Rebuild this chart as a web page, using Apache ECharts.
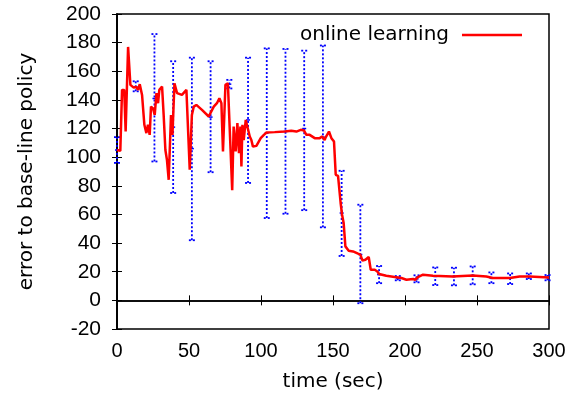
<!DOCTYPE html>
<html>
<head>
<meta charset="utf-8">
<script src="https://cdn.jsdelivr.net/npm/echarts@6/dist/echarts.min.js"></script>
<style>html,body{margin:0;padding:0;background:#fff}#c{width:583px;height:403px}</style>
</head>
<body>
<div id="c"></div>
<script>
var lineT = [0,2.3,3.5,5,6,7.7,9.3,11.6,13.5,14.6,15.8,17.4,19,20.4,21.5,22.7,23.6,25,26.2,27.4,28.5,29.4,31.3,32.4,33.6,34.7,35.9,37.5,38.5,39.9,41.7,45.1,48.2,50.5,52,53.3,55.1,59,63.7,67.2,69.4,71.1,72.5,73.6,75.3,77,78.3,80,81,82.4,83.6,84.7,85.7,86.4,87.1,88,89.4,90.6,92.2,93.3,94.4,96.8,97.9,99.8,102,103.8,109.5,116.5,121,124.6,127.6,129.9,131.5,133.8,137.3,140.8,142.4,144.2,145,147.2,148.9,150.7,151.9,153.5,155.3,156.3,157.4,158.6,160.9,163.9,165,167.4,169,170.4,172.5,174.8,176.2,179,180.8,182,187,192.8,197.5,201,205.6,207,209,212.5,219.4,233,247,256.5,261,272.7,279.6,286.6,300];
var lineV = [105,104.4,147,147,118,177,150.5,148.6,149,147,151,143.5,122.6,116.8,122.6,115.6,135.3,134,129.5,144.7,137.7,147,149.3,129.5,105,98,84.2,129.5,115.6,151.6,144.7,143.5,147,91.2,129.5,135.3,136.5,133,128.4,135.3,137.7,141.2,137.7,104,150.5,151.6,151.6,77,121.4,104,123.8,102.8,121.4,93.5,122.6,112,126,127.2,114.4,112,107.4,107.9,107,113.3,115.6,117.2,117.5,117.9,118.4,117.9,119.1,118.6,115.6,115.6,113.3,113.3,114.4,112,114,117.9,113.3,110.9,87.7,87,68,59.8,54,37.7,34.7,34.2,34.2,32.6,31.9,27.9,28.4,30.3,21.4,21.4,20.2,18.4,17.2,16.3,15.6,14.4,14.9,14.4,16.3,17.9,17.2,16.7,17.4,16.7,15.6,15.6,16.7,16.7,16];

var errT    = [0,13,26,39,52,65,78,91,104,117,130,143,156,169,182,195,208,221,234,247,260,273,286,299];
var errLow  = [96,146,97,75,42,89.5,148,82,57.5,60.5,63,51,31,-2,12,14,12.6,10.7,10.5,11.2,12,11.4,14.9,14];
var errHigh = [114,153,186,167,169.5,167,154,169.5,176,175.6,174.4,178,90.5,66.8,24,17,17.5,23,22.8,23.7,19.5,18.8,18.8,17.7];
var errMid  = [105,149,141,121,106,128,151,126,117,118,120,114,61,32,18,15.6,15,16.7,16.7,17.4,15.6,15.6,16.7,16];

var xTicks = [0,50,100,150,200,250,300];
var yTicks = [-20,0,20,40,60,80,100,120,140,160,180,200];
var seriesName = 'online learning';
var xTitle = 'time (sec)';
var yTitle = 'error to base-line policy';

var lineData = lineT.map(function(t,i){return [t,lineV[i]];});
var errData = errT.map(function(t,i){return [t,errLow[i],errHigh[i],errMid[i]];});

var FONT = '"Liberation Sans", Arial, sans-serif';
var FONT2 = '"DejaVu Sans", sans-serif';
var chart = echarts.init(document.getElementById('c'), null, {renderer:'canvas'});
var tickStyle = {show:true, inside:true, length:5, lineStyle:{color:'#000', width:1}};
chart.setOption({
  animation:false,
  backgroundColor:'#fff',
  grid:{left:117, right:34, top:14, bottom:74, show:true, borderColor:'#000', borderWidth:1.5, backgroundColor:'transparent'},
  legend:{
    data:[{name:seriesName, icon:'rect'}],
    right:56, top:20, align:'right',
    itemWidth:60, itemHeight:2.5, itemGap:0,
    textStyle:{fontFamily:FONT2, fontSize:20, color:'#000', padding:[0,8,0,0]}
  },
  xAxis:[{
    type:'value', min:0, max:300, interval:50,
    name:xTitle, nameLocation:'middle', nameGap:43,
    nameTextStyle:{fontFamily:FONT2, fontSize:20, color:'#000'},
    axisLine:{show:true, lineStyle:{color:'#000', width:1.5}},
    axisTick:tickStyle,
    axisLabel:{fontFamily:FONT, fontSize:20, color:'#000', margin:12},
    splitLine:{show:false}
  },{
    type:'value', min:0, max:300, interval:50, position:'top',
    axisLine:{show:true, lineStyle:{color:'#000', width:1.5}},
    axisTick:tickStyle, axisLabel:{show:false}, splitLine:{show:false}
  }],
  yAxis:[{
    type:'value', min:-20, max:200, interval:20,
    name:yTitle, nameLocation:'middle', nameGap:80, nameRotate:90,
    nameTextStyle:{fontFamily:FONT2, fontSize:20, color:'#000'},
    axisLine:{show:true, lineStyle:{color:'#000', width:1.5}},
    axisTick:tickStyle,
    axisLabel:{fontFamily:FONT, fontSize:21, color:'#000', margin:16},
    splitLine:{show:false}
  },{
    type:'value', min:-20, max:200, interval:20, position:'right',
    axisLine:{show:true, lineStyle:{color:'#000', width:1.5}},
    axisTick:tickStyle, axisLabel:{show:false}, splitLine:{show:false}
  }],
  series:[{
    type:'custom',
    name:'err',
    data:errData,
    z:3,
    renderItem:function(params, api){
      var x = api.value(0);
      var lo = api.coord([x, api.value(1)]);
      var hi = api.coord([x, api.value(2)]);
      var md = api.coord([x, api.value(3)]);
      var st = {stroke:'#0000ff', lineWidth:1.8, lineDash:[2,2], fill:null};
      var hw = 3;
      return {type:'group', children:[
        {type:'line', shape:{x1:lo[0], y1:lo[1], x2:hi[0], y2:hi[1]}, style:st},
        {type:'line', shape:{x1:lo[0]-hw, y1:lo[1], x2:lo[0]+hw, y2:lo[1]}, style:st},
        {type:'line', shape:{x1:hi[0]-hw, y1:hi[1], x2:hi[0]+hw, y2:hi[1]}, style:st},
        {type:'line', shape:{x1:md[0]-2, y1:md[1], x2:md[0]+2, y2:md[1]}, style:{stroke:'#0000ff', lineWidth:1.5}}
      ]};
    }
  },{
    type:'line',
    name:seriesName,
    data:lineData,
    showSymbol:false, symbol:'none',
    z:4,
    lineStyle:{color:'#ff0000', width:2.5},
    itemStyle:{color:'#ff0000'}
  }]
});
</script>
</body>
</html>
